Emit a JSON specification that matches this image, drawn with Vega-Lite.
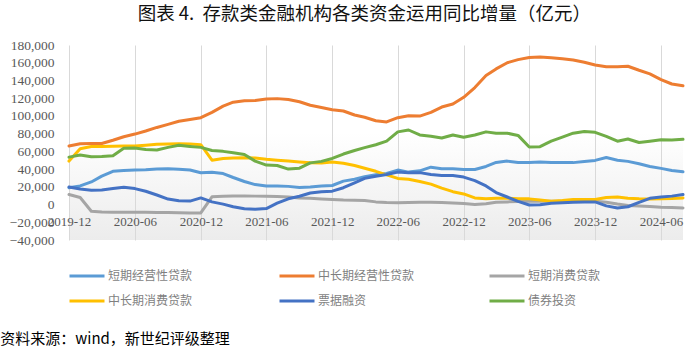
{
  "$schema": "https://vega.github.io/schema/vega-lite/v6.json",
  "padding": {"left": 0, "top": 4, "right": 0, "bottom": 0},
  "background": "#ffffff",
  "title": {"text": "图表 4. \u00a0存款类金融机构各类资金运用同比增量（亿元）", "font": "Noto Sans CJK SC", "fontSize": 18.5, "fontWeight": "normal", "color": "#111111", "anchor": "middle", "offset": 15, "dx": 22},
  "config": {"view": {"stroke": null, "fill": {"gradient": "linear", "x1": 0, "y1": 0, "x2": 0, "y2": 1, "stops": [{"offset": 0, "color": "#ffffff"}, {"offset": 0.45, "color": "#ffffff"}, {"offset": 1, "color": "#ececec"}]}}, "concat": {"spacing": 0}},
  "datasets": {
    "wide": [
      {"d": "2019-12", "短期经营性贷款": 19000, "中长期经营性贷款": 66000, "短期消费贷款": 11300, "中长期消费贷款": 49000, "票据融资": 19800, "债券投资": 53500},
      {"d": "2020-01", "短期经营性贷款": 21000, "中长期经营性贷款": 68500, "短期消费贷款": 8000, "中长期消费贷款": 63000, "票据融资": 17500, "债券投资": 56000},
      {"d": "2020-02", "短期经营性贷款": 25500, "中长期经营性贷款": 69000, "短期消费贷款": -7500, "中长期消费贷款": 65500, "票据融资": 16200, "债券投资": 54000},
      {"d": "2020-03", "短期经营性贷款": 32000, "中长期经营性贷款": 68800, "短期消费贷款": -8500, "中长期消费贷款": 65500, "票据融资": 16500, "债券投资": 54200},
      {"d": "2020-04", "短期经营性贷款": 37500, "中长期经营性贷款": 72500, "短期消费贷款": -8700, "中长期消费贷款": 65800, "票据融资": 18000, "债券投资": 55000},
      {"d": "2020-05", "短期经营性贷款": 38500, "中长期经营性贷款": 76500, "短期消费贷款": -8700, "中长期消费贷款": 66000, "票据融资": 19500, "债券投资": 63500},
      {"d": "2020-06", "短期经营性贷款": 38900, "中长期经营性贷款": 79500, "短期消费贷款": -8700, "中长期消费贷款": 66000, "票据融资": 18000, "债券投资": 63800},
      {"d": "2020-07", "短期经营性贷款": 39300, "中长期经营性贷款": 83000, "短期消费贷款": -8800, "中长期消费贷款": 67000, "票据融资": 15000, "债券投资": 62000},
      {"d": "2020-08", "短期经营性贷款": 40000, "中长期经营性贷款": 87000, "短期消费贷款": -9000, "中长期消费贷款": 68000, "票据融资": 10800, "债券投资": 61500},
      {"d": "2020-09", "短期经营性贷款": 40400, "中长期经营性贷款": 90500, "短期消费贷款": -9000, "中长期消费贷款": 68300, "票据融资": 6200, "债券投资": 64500},
      {"d": "2020-10", "短期经营性贷款": 39800, "中长期经营性贷款": 94000, "短期消费贷款": -9200, "中长期消费贷款": 68500, "票据融资": 4300, "债券投资": 66800},
      {"d": "2020-11", "短期经营性贷款": 39000, "中长期经营性贷款": 96000, "短期消费贷款": -9400, "中长期消费贷款": 68300, "票据融资": 3900, "债券投资": 65500},
      {"d": "2020-12", "短期经营性贷款": 35900, "中长期经营性贷款": 98000, "短期消费贷款": -9400, "中长期消费贷款": 67500, "票据融资": 7500, "债券投资": 64500},
      {"d": "2021-01", "短期经营性贷款": 36500, "中长期经营性贷款": 104000, "短期消费贷款": 8700, "中长期消费贷款": 50000, "票据融资": 3000, "债券投资": 61000},
      {"d": "2021-02", "短期经营性贷款": 35000, "中长期经营性贷款": 111000, "短期消费贷款": 9400, "中长期消费贷款": 52000, "票据融资": 500, "债券投资": 60000},
      {"d": "2021-03", "短期经营性贷款": 30500, "中长期经营性贷款": 115500, "短期消费贷款": 9600, "中长期消费贷款": 52500, "票据融资": -2500, "债券投资": 58500},
      {"d": "2021-04", "短期经营性贷款": 26000, "中长期经营性贷款": 117000, "短期消费贷款": 9600, "中长期消费贷款": 52800, "票据融资": -4800, "债券投资": 56500},
      {"d": "2021-05", "短期经营性贷款": 22500, "中长期经营性贷款": 117500, "短期消费贷款": 9500, "中长期消费贷款": 52500, "票据融资": -5200, "债券投资": 49000},
      {"d": "2021-06", "短期经营性贷款": 20800, "中长期经营性贷款": 119000, "短期消费贷款": 9300, "中长期消费贷款": 51000, "票据融资": -4500, "债券投资": 44500},
      {"d": "2021-07", "短期经营性贷款": 20800, "中长期经营性贷款": 119500, "短期消费贷款": 9000, "中长期消费贷款": 50000, "票据融资": 1500, "债券投资": 44000},
      {"d": "2021-08", "短期经营性贷款": 20500, "中长期经营性贷款": 118500, "短期消费贷款": 8500, "中长期消费贷款": 49000, "票据融资": 6500, "债券投资": 40000},
      {"d": "2021-09", "短期经营性贷款": 19200, "中长期经营性贷款": 116000, "短期消费贷款": 7500, "中长期消费贷款": 48000, "票据融资": 9400, "债券投资": 41000},
      {"d": "2021-10", "短期经营性贷款": 19800, "中长期经营性贷款": 112000, "短期消费贷款": 7000, "中长期消费贷款": 47200, "票据融资": 13000, "债券投资": 47000},
      {"d": "2021-11", "短期经营性贷款": 20800, "中长期经营性贷款": 109500, "短期消费贷款": 6300, "中长期消费贷款": 47000, "票据融资": 14500, "债券投资": 48700},
      {"d": "2021-12", "短期经营性贷款": 21500, "中长期经营性贷款": 107000, "短期消费贷款": 5700, "中长期消费贷款": 48000, "票据融资": 15100, "债券投资": 52000},
      {"d": "2022-01", "短期经营性贷款": 26400, "中长期经营性贷款": 105500, "短期消费贷款": 5000, "中长期消费贷款": 46500, "票据融资": 19000, "债券投资": 57000},
      {"d": "2022-02", "短期经营性贷款": 28500, "中长期经营性贷款": 101000, "短期消费贷款": 4900, "中长期消费贷款": 44000, "票据融资": 24500, "债券投资": 61000},
      {"d": "2022-03", "短期经营性贷款": 31500, "中长期经营性贷款": 98500, "短期消费贷款": 4600, "中长期消费贷款": 41000, "票据融资": 29500, "债券投资": 64200},
      {"d": "2022-04", "短期经营性贷款": 33500, "中长期经营性贷款": 94500, "短期消费贷款": 3000, "中长期消费贷款": 37500, "票据融资": 32000, "债券投资": 67500},
      {"d": "2022-05", "短期经营性贷款": 35000, "中长期经营性贷款": 93200, "短期消费贷款": 2200, "中长期消费贷款": 33500, "票据融资": 34000, "债券投资": 71500},
      {"d": "2022-06", "短期经营性贷款": 38900, "中长期经营性贷款": 98000, "短期消费贷款": 1900, "中长期消费贷款": 29500, "票据融资": 36600, "债券投资": 82000},
      {"d": "2022-07", "短期经营性贷款": 36600, "中长期经营性贷款": 100200, "短期消费贷款": 2200, "中长期消费贷款": 28500, "票据融资": 36000, "债券投资": 84100},
      {"d": "2022-08", "短期经营性贷款": 38000, "中长期经营性贷款": 99800, "短期消费贷款": 2500, "中长期消费贷款": 26000, "票据融资": 36000, "债券投资": 78500},
      {"d": "2022-09", "短期经营性贷款": 42200, "中长期经营性贷款": 104000, "短期消费贷款": 2600, "中长期消费贷款": 23000, "票据融资": 34000, "债券投资": 77000},
      {"d": "2022-10", "短期经营性贷款": 40500, "中长期经营性贷款": 110000, "短期消费贷款": 2200, "中长期消费贷款": 18500, "票据融资": 32800, "债券投资": 75000},
      {"d": "2022-11", "短期经营性贷款": 40400, "中长期经营性贷款": 113500, "短期消费贷款": 1800, "中长期消费贷款": 14500, "票据融资": 32800, "债券投资": 78500},
      {"d": "2022-12", "短期经营性贷款": 39500, "中长期经营性贷款": 121000, "短期消费贷款": 1100, "中长期消费贷款": 12000, "票据融资": 31000, "债券投资": 76000},
      {"d": "2023-01", "短期经营性贷款": 39600, "中长期经营性贷款": 132000, "短期消费贷款": 0, "中长期消费贷款": 7500, "票据融资": 27000, "债券投资": 78500},
      {"d": "2023-02", "短期经营性贷款": 43000, "中长期经营性贷款": 145500, "短期消费贷款": 800, "中长期消费贷款": 6500, "票据融资": 21000, "债券投资": 82000},
      {"d": "2023-03", "短期经营性贷款": 47500, "中长期经营性贷款": 153000, "短期消费贷款": 2600, "中长期消费贷款": 7200, "票据融资": 13500, "债券投资": 80500},
      {"d": "2023-04", "短期经营性贷款": 49000, "中长期经营性贷款": 160000, "短期消费贷款": 3000, "中长期消费贷款": 7000, "票据融资": 8500, "债券投资": 80500},
      {"d": "2023-05", "短期经营性贷款": 47500, "中长期经营性贷款": 163500, "短期消费贷款": 3500, "中长期消费贷款": 6500, "票据融资": 3500, "债券投资": 78000},
      {"d": "2023-06", "短期经营性贷款": 47500, "中长期经营性贷款": 166000, "短期消费贷款": 3800, "中长期消费贷款": 6400, "票据融资": -500, "债券投资": 65000},
      {"d": "2023-07", "短期经营性贷款": 47900, "中长期经营性贷款": 166500, "短期消费贷款": 3800, "中长期消费贷款": 5200, "票据融资": -300, "债券投资": 65300},
      {"d": "2023-08", "短期经营性贷款": 47500, "中长期经营性贷款": 165500, "短期消费贷款": 3800, "中长期消费贷款": 3800, "票据融资": 1500, "债券投资": 71500},
      {"d": "2023-09", "短期经营性贷款": 47500, "中长期经营性贷款": 164500, "短期消费贷款": 3800, "中长期消费贷款": 4500, "票据融资": 1900, "债券投资": 76000},
      {"d": "2023-10", "短期经营性贷款": 47300, "中长期经营性贷款": 163000, "短期消费贷款": 3800, "中长期消费贷款": 5700, "票据融资": 2500, "债券投资": 80500},
      {"d": "2023-11", "短期经营性贷款": 48500, "中长期经营性贷款": 160500, "短期消费贷款": 3800, "中长期消费贷款": 5700, "票据融资": 3000, "债券投资": 82500},
      {"d": "2023-12", "短期经营性贷款": 49800, "中长期经营性贷款": 157500, "短期消费贷款": 3800, "中长期消费贷款": 5700, "票据融资": 3000, "债券投资": 81500},
      {"d": "2024-01", "短期经营性贷款": 53000, "中长期经营性贷款": 155500, "短期消费贷款": 2600, "中长期消费贷款": 8000, "票据融资": -1500, "债券投资": 77000},
      {"d": "2024-02", "短期经营性贷款": 50000, "中长期经营性贷款": 155500, "短期消费贷款": 500, "中长期消费贷款": 8500, "票据融资": -4000, "债券投资": 71500},
      {"d": "2024-03", "短期经营性贷款": 48700, "中长期经营性贷款": 156000, "短期消费贷款": -1100, "中长期消费贷款": 7000, "票据融资": -2500, "债券投资": 74000},
      {"d": "2024-04", "短期经营性贷款": 46000, "中长期经营性贷款": 151500, "短期消费贷款": -1700, "中长期消费贷款": 6400, "票据融资": 2500, "债券投资": 70000},
      {"d": "2024-05", "短期经营性贷款": 43000, "中长期经营性贷款": 147500, "短期消费贷款": -2200, "中长期消费贷款": 6300, "票据融资": 7000, "债券投资": 71500},
      {"d": "2024-06", "短期经营性贷款": 40800, "中长期经营性贷款": 141000, "短期消费贷款": -3000, "中长期消费贷款": 6400, "票据融资": 8500, "债券投资": 73000},
      {"d": "2024-07", "短期经营性贷款": 38500, "中长期经营性贷款": 136000, "短期消费贷款": -3400, "中长期消费贷款": 6800, "票据融资": 9500, "债券投资": 72800},
      {"d": "2024-08", "短期经营性贷款": 37000, "中长期经营性贷款": 134000, "短期消费贷款": -3800, "中长期消费贷款": 7500, "票据融资": 11300, "债券投资": 73600}
    ]
  },
  "vconcat": [
    {
      "width": 614,
      "height": 195,
      "title": {"text": "资料来源：wind，新世纪评级整理", "orient": "bottom", "anchor": "start", "font": "Noto Sans CJK SC", "fontSize": 15, "fontWeight": "normal", "color": "#000000", "offset": 85, "dx": -9},
      "data": {"name": "wide"},
      "transform": [{"fold": ["短期经营性贷款", "中长期经营性贷款", "短期消费贷款", "中长期消费贷款", "票据融资", "债券投资"], "as": ["series", "value"]}],
      "mark": {"type": "line", "strokeWidth": 3, "strokeJoin": "round", "strokeCap": "round"},
      "encoding": {
        "x": {
          "field": "d", "type": "temporal",
          "scale": {"type": "utc", "domain": [{"year": 2019, "month": 12, "date": 1, "utc": true}, {"year": 2024, "month": 8, "date": 1, "utc": true}]},
          "axis": {
            "orient": "bottom", "offset": -35.45, "domain": false, "ticks": false,
            "grid": true, "gridColor": "#d9d9d9", "gridWidth": 1,
            "labelPadding": 11, "labelFont": "Liberation Serif", "labelFontSize": 13, "labelColor": "#595959",
            "labelFlush": false, "labelOverlap": false, "labelDx": 4, "format": "%Y-%m", "title": null,
            "values": [
              {"year": 2019, "month": 12, "date": 1, "utc": true},
              {"year": 2020, "month": 6, "date": 1, "utc": true},
              {"year": 2020, "month": 12, "date": 1, "utc": true},
              {"year": 2021, "month": 6, "date": 1, "utc": true},
              {"year": 2021, "month": 12, "date": 1, "utc": true},
              {"year": 2022, "month": 6, "date": 1, "utc": true},
              {"year": 2022, "month": 12, "date": 1, "utc": true},
              {"year": 2023, "month": 6, "date": 1, "utc": true},
              {"year": 2023, "month": 12, "date": 1, "utc": true},
              {"year": 2024, "month": 6, "date": 1, "utc": true}
            ]
          }
        },
        "y": {
          "field": "value", "type": "quantitative",
          "scale": {"domain": [-40000, 180000], "nice": false, "zero": false},
          "axis": {
            "values": [-40000, -20000, 0, 20000, 40000, 60000, 80000, 100000, 120000, 140000, 160000, 180000],
            "format": ",.0f", "domain": false, "ticks": false, "grid": false,
            "labelPadding": 15, "labelFont": "Liberation Serif", "labelFontSize": 13.5, "labelColor": "#595959", "title": null
          }
        },
        "color": {
          "field": "series", "type": "nominal",
          "sort": ["短期经营性贷款", "中长期经营性贷款", "短期消费贷款", "中长期消费贷款", "票据融资", "债券投资"],
          "scale": {"domain": ["短期经营性贷款", "中长期经营性贷款", "短期消费贷款", "中长期消费贷款", "票据融资", "债券投资"], "range": ["#5b9bd5", "#ed7d31", "#a5a5a5", "#ffc000", "#4472c4", "#70ad47"]},
          "legend": {
            "orient": "none", "legendX": -1, "legendY": 212, "direction": "horizontal", "columns": 3, "gridAlign": "all",
            "columnPadding": 68, "rowPadding": -10, "symbolType": "stroke", "symbolSize": 1225, "symbolStrokeWidth": 3,
            "labelFont": "Noto Sans CJK SC", "labelFontSize": 12, "labelColor": "#7f7f7f", "labelOffset": 2, "title": null
          }
        }
      }
    }
  ]
}
